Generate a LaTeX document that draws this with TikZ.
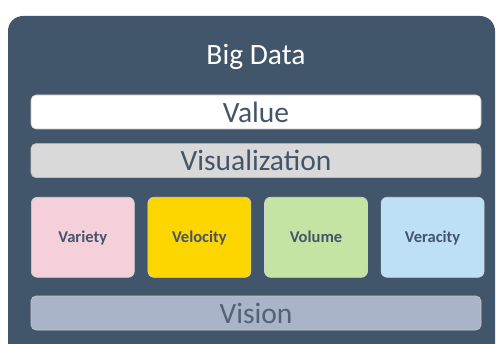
\documentclass[tikz,border=0pt]{standalone}
\usepackage{fontspec}
\setmainfont{Carlito}
\usetikzlibrary{positioning}

\definecolor{panelblue}{HTML}{41566A}
\definecolor{labelink}{HTML}{44546A}
\definecolor{barwhite}{HTML}{FFFFFF}
\definecolor{bargrey}{HTML}{D9D9D9}
\definecolor{barslate}{HTML}{A9B4C8}
\definecolor{pinkfill}{HTML}{F5D0DB}
\definecolor{goldfill}{HTML}{FDD600}
\definecolor{greenfill}{HTML}{C4E4A4}
\definecolor{bluefill}{HTML}{BEE0F4}

\begin{document}
\begin{tikzpicture}[
    x=1pt, y=-1pt,
    node distance=13pt,
    bar/.style={draw=gray!45, line width=0.6pt, rounded corners=5pt, minimum width=450pt, minimum height=34pt, inner sep=0pt, text=labelink, font=\fontsize{29.5}{31}\selectfont},
    vbox/.style={draw=gray!35, line width=0.6pt, rounded corners=6pt, minimum width=103pt, minimum height=80pt, inner sep=0pt, text height=1em, text depth=0pt, text=labelink, font=\fontsize{16.5}{18}\selectfont\bfseries}
]
\useasboundingbox (0,0) rectangle (497,344);
% dark panel, its lower edge runs off the page
\fill[panelblue, rounded corners=15pt] (8,370) -- (8,16) -- (495,16) -- (495,370) -- cycle;
\node[text=white, font=\fontsize{29.5}{31}\selectfont] (title) at (256,57) {Big Data};

\node[bar, fill=barwhite] (value) at (256,112) {Value};
\node[bar, fill=bargrey, below=14pt of value] (visual) {Visualization};

\node[vbox, fill=pinkfill, anchor=north west] (variety) at (31,197) {Variety};
\node[vbox, fill=goldfill, right=of variety] (velocity) {Velocity};
\node[vbox, fill=greenfill, right=of velocity] (volume) {Volume};
\node[vbox, fill=bluefill, right=of volume] (veracity) {Veracity};

\node[bar, fill=barslate, text=labelink!92!white] (vision) at (256,313) {Vision};
\end{tikzpicture}
\end{document}
